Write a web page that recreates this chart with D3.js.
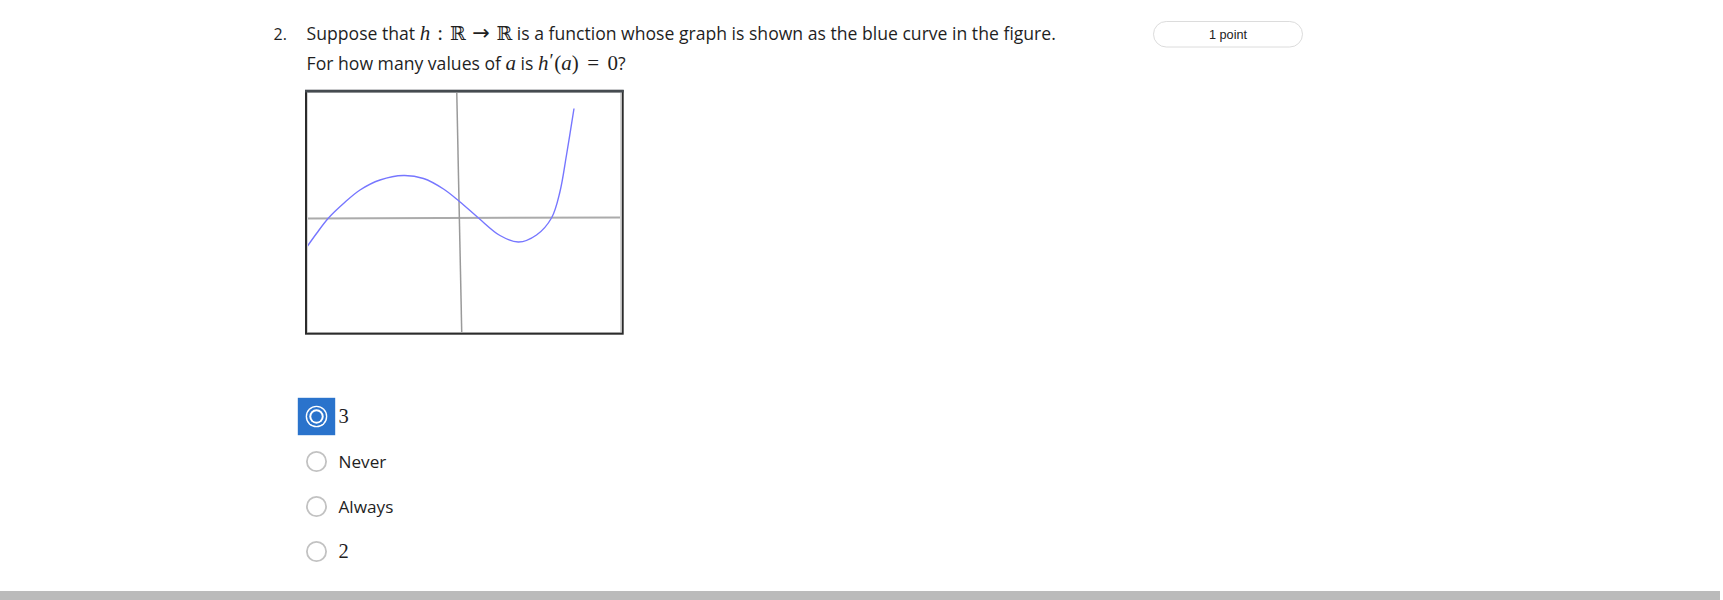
<!DOCTYPE html>
<html><head><meta charset="utf-8">
<script src="https://cdn.jsdelivr.net/npm/d3@7"></script>
<style>body{margin:0;background:#fff;} svg{display:block}</style>
</head><body>
<script>
// ---- data ----
const curveX = [-3.05, -2.85, -2.61, -2.31, -1.98, -1.58, -1.11, -0.71, -0.31, 0.01, 0.39, 0.82, 1.19, 1.55, 1.85, 2.02, 2.15, 2.30];
const curveY = [-0.59, -0.31, 0.00, 0.29, 0.56, 0.76, 0.85, 0.79, 0.58, 0.33, 0.00, -0.35, -0.48, -0.34, 0.00, 0.53, 1.26, 2.19];
const xDomain = [-3.04, 3.24];
const yDomain = [-2.3, 2.52];
const verticalAxisX = [-0.045, 0.055]; // top, bottom (picture is slightly skewed)
const questionNumber = "2.";
const pointsLabel = "1 point";
const optionLabels = ["3", "Never", "Always", "2"];
const optionIsMath = [true, false, false, true];
const selectedIndex = 0;

// ---- drawing ----
const W = 1723, H = 600;
const sans = "'Open Sans', sans-serif";
const serif = "'Liberation Serif', 'DejaVu Serif', serif";
const ink = "#1f1f1f";
const svg = d3.select("body").append("svg").attr("width", W).attr("height", H);

// question text
svg.append("text").attr("x", 273.5).attr("y", 40).attr("font-family", sans)
  .attr("font-size", 16).attr("fill", ink).text(questionNumber);

function mathLine(y, parts) {
  const t = svg.append("text").attr("x", 306.6).attr("y", y).attr("fill", ink);
  parts.forEach(p => {
    const s = t.append("tspan").text(p.t);
    if (p.m) {
      s.attr("font-family", p.f || serif).attr("font-size", 21);
      if (p.i) s.attr("font-style", "italic");
    } else {
      s.attr("font-family", sans).attr("font-size", 17.6);
    }
    if (p.dx) s.attr("dx", p.dx);
    if (p.dy) s.attr("dy", p.dy);
    if (p.fs) s.attr("font-size", p.fs);
  });
}
mathLine(40, [
  {t: "Suppose that "},
  {t: "h", m: 1, i: 1},
  {t: ":", m: 1, dx: 7},
  {t: "ℝ", m: 1, dx: 7, fs: 19, f: "'DejaVu Serif', serif"},
  {t: "→", m: 1, dx: 6.5, f: "'DejaVu Sans', sans-serif", fs: 21},
  {t: "ℝ", m: 1, dx: 6.5, fs: 19, f: "'DejaVu Serif', serif"},
  {t: " is a function whose graph is shown as the blue curve in the figure."}
]);
mathLine(70, [
  {t: "For how many values of "},
  {t: "a", m: 1, i: 1},
  {t: " is "},
  {t: "h", m: 1, i: 1},
  {t: "′", m: 1, fs: 19, dx: 1, dy: -3},
  {t: "(", m: 1, dx: 0.5, dy: 3},
  {t: "a", m: 1, i: 1},
  {t: ")", m: 1},
  {t: "=", m: 1, dx: 8.5},
  {t: "0", m: 1, dx: 8.5},
  {t: "?"}
]);

// points pill
svg.append("rect").attr("x", 1153.5).attr("y", 21.5).attr("width", 149).attr("height", 25.5)
  .attr("rx", 12.75).attr("fill", "#fff").attr("stroke", "#dcdcdc").attr("stroke-width", 1);
svg.append("text").attr("x", 1228).attr("y", 39).attr("text-anchor", "middle")
  .attr("font-family", "'Liberation Sans', Arial, sans-serif").attr("font-size", 12.7).attr("fill", "#222").text(pointsLabel);

// graph
const plot = {x0: 307, x1: 621, y0: 92, y1: 333};
const xs = d3.scaleLinear().domain(xDomain).range([plot.x0, plot.x1]);
const ys = d3.scaleLinear().domain(yDomain).range([plot.y1, plot.y0]);

svg.append("rect").attr("x", plot.x0).attr("y", plot.y0).attr("width", plot.x1 - plot.x0)
  .attr("height", plot.y1 - plot.y0).attr("fill", "#fff");
svg.append("clipPath").attr("id", "clip").append("rect").attr("x", plot.x0).attr("y", plot.y0)
  .attr("width", plot.x1 - plot.x0).attr("height", plot.y1 - plot.y0);
const g = svg.append("g").attr("clip-path", "url(#clip)");

// axes
g.append("line").attr("x1", xs(xDomain[0])).attr("x2", xs(xDomain[1]))
  .attr("y1", ys(-0.01)).attr("y2", ys(0.01)).attr("stroke", "#ababab").attr("stroke-width", 2);
g.append("line").attr("x1", xs(verticalAxisX[0])).attr("x2", xs(verticalAxisX[1]))
  .attr("y1", ys(yDomain[1])).attr("y2", ys(yDomain[0])).attr("stroke", "#9a9a9a").attr("stroke-width", 1.5);

// curve
const pts = curveX.map((x, i) => [x, curveY[i]]);
const line = d3.line().x(d => xs(d[0])).y(d => ys(d[1])).curve(d3.curveCatmullRom.alpha(0.5));
g.append("path").attr("d", line(pts)).attr("fill", "none").attr("stroke", "#7676ff")
  .attr("stroke-width", 1.4);

// frame
svg.append("rect").attr("x", plot.x0 + 0.5).attr("y", plot.y0 + 0.5).attr("width", plot.x1 - plot.x0 - 1)
  .attr("height", plot.y1 - plot.y0 - 1).attr("fill", "none").attr("stroke", "#d4d4d4").attr("stroke-width", 1);
svg.append("rect").attr("x", 306).attr("y", 91).attr("width", 316.7).attr("height", 242.7)
  .attr("fill", "none").attr("stroke", "#2b2b2b").attr("stroke-width", 2);
svg.append("rect").attr("x", 305).attr("y", 89.7).attr("width", 318.7).attr("height", 2.8).attr("fill", "#454b50");

// options
const optY = d3.scalePoint().domain(d3.range(optionLabels.length)).range([416.5, 551.5]);
optionLabels.forEach((lab, i) => {
  const cy = optY(i), cx = 316.5;
  if (i === selectedIndex) {
    svg.append("rect").attr("x", 297.8).attr("y", cy - 18.7).attr("width", 37.4).attr("height", 37.4).attr("fill", "#2a73cc");
    svg.append("circle").attr("cx", cx).attr("cy", cy).attr("r", 10.8).attr("fill", "#fff");
    svg.append("circle").attr("cx", cx).attr("cy", cy).attr("r", 9.4).attr("fill", "#2a73cc");
    svg.append("circle").attr("cx", cx).attr("cy", cy).attr("r", 7.2).attr("fill", "#fff");
    svg.append("circle").attr("cx", cx).attr("cy", cy).attr("r", 5.2).attr("fill", "#2a73cc");
  } else {
    svg.append("circle").attr("cx", cx).attr("cy", cy).attr("r", 9.6).attr("fill", "#fff")
      .attr("stroke", "#c2c2c2").attr("stroke-width", 1.8);
  }
  const t = svg.append("text").attr("x", 338.5).attr("y", cy + 6.5).attr("fill", ink).text(lab);
  if (optionIsMath[i]) t.attr("font-family", serif).attr("font-size", 20.5);
  else t.attr("font-family", sans).attr("font-size", 17.2);
});

// bottom bar
svg.append("rect").attr("x", 0).attr("y", 591).attr("width", 1720).attr("height", 9).attr("fill", "#bbbbbb");
</script>
</body></html>
